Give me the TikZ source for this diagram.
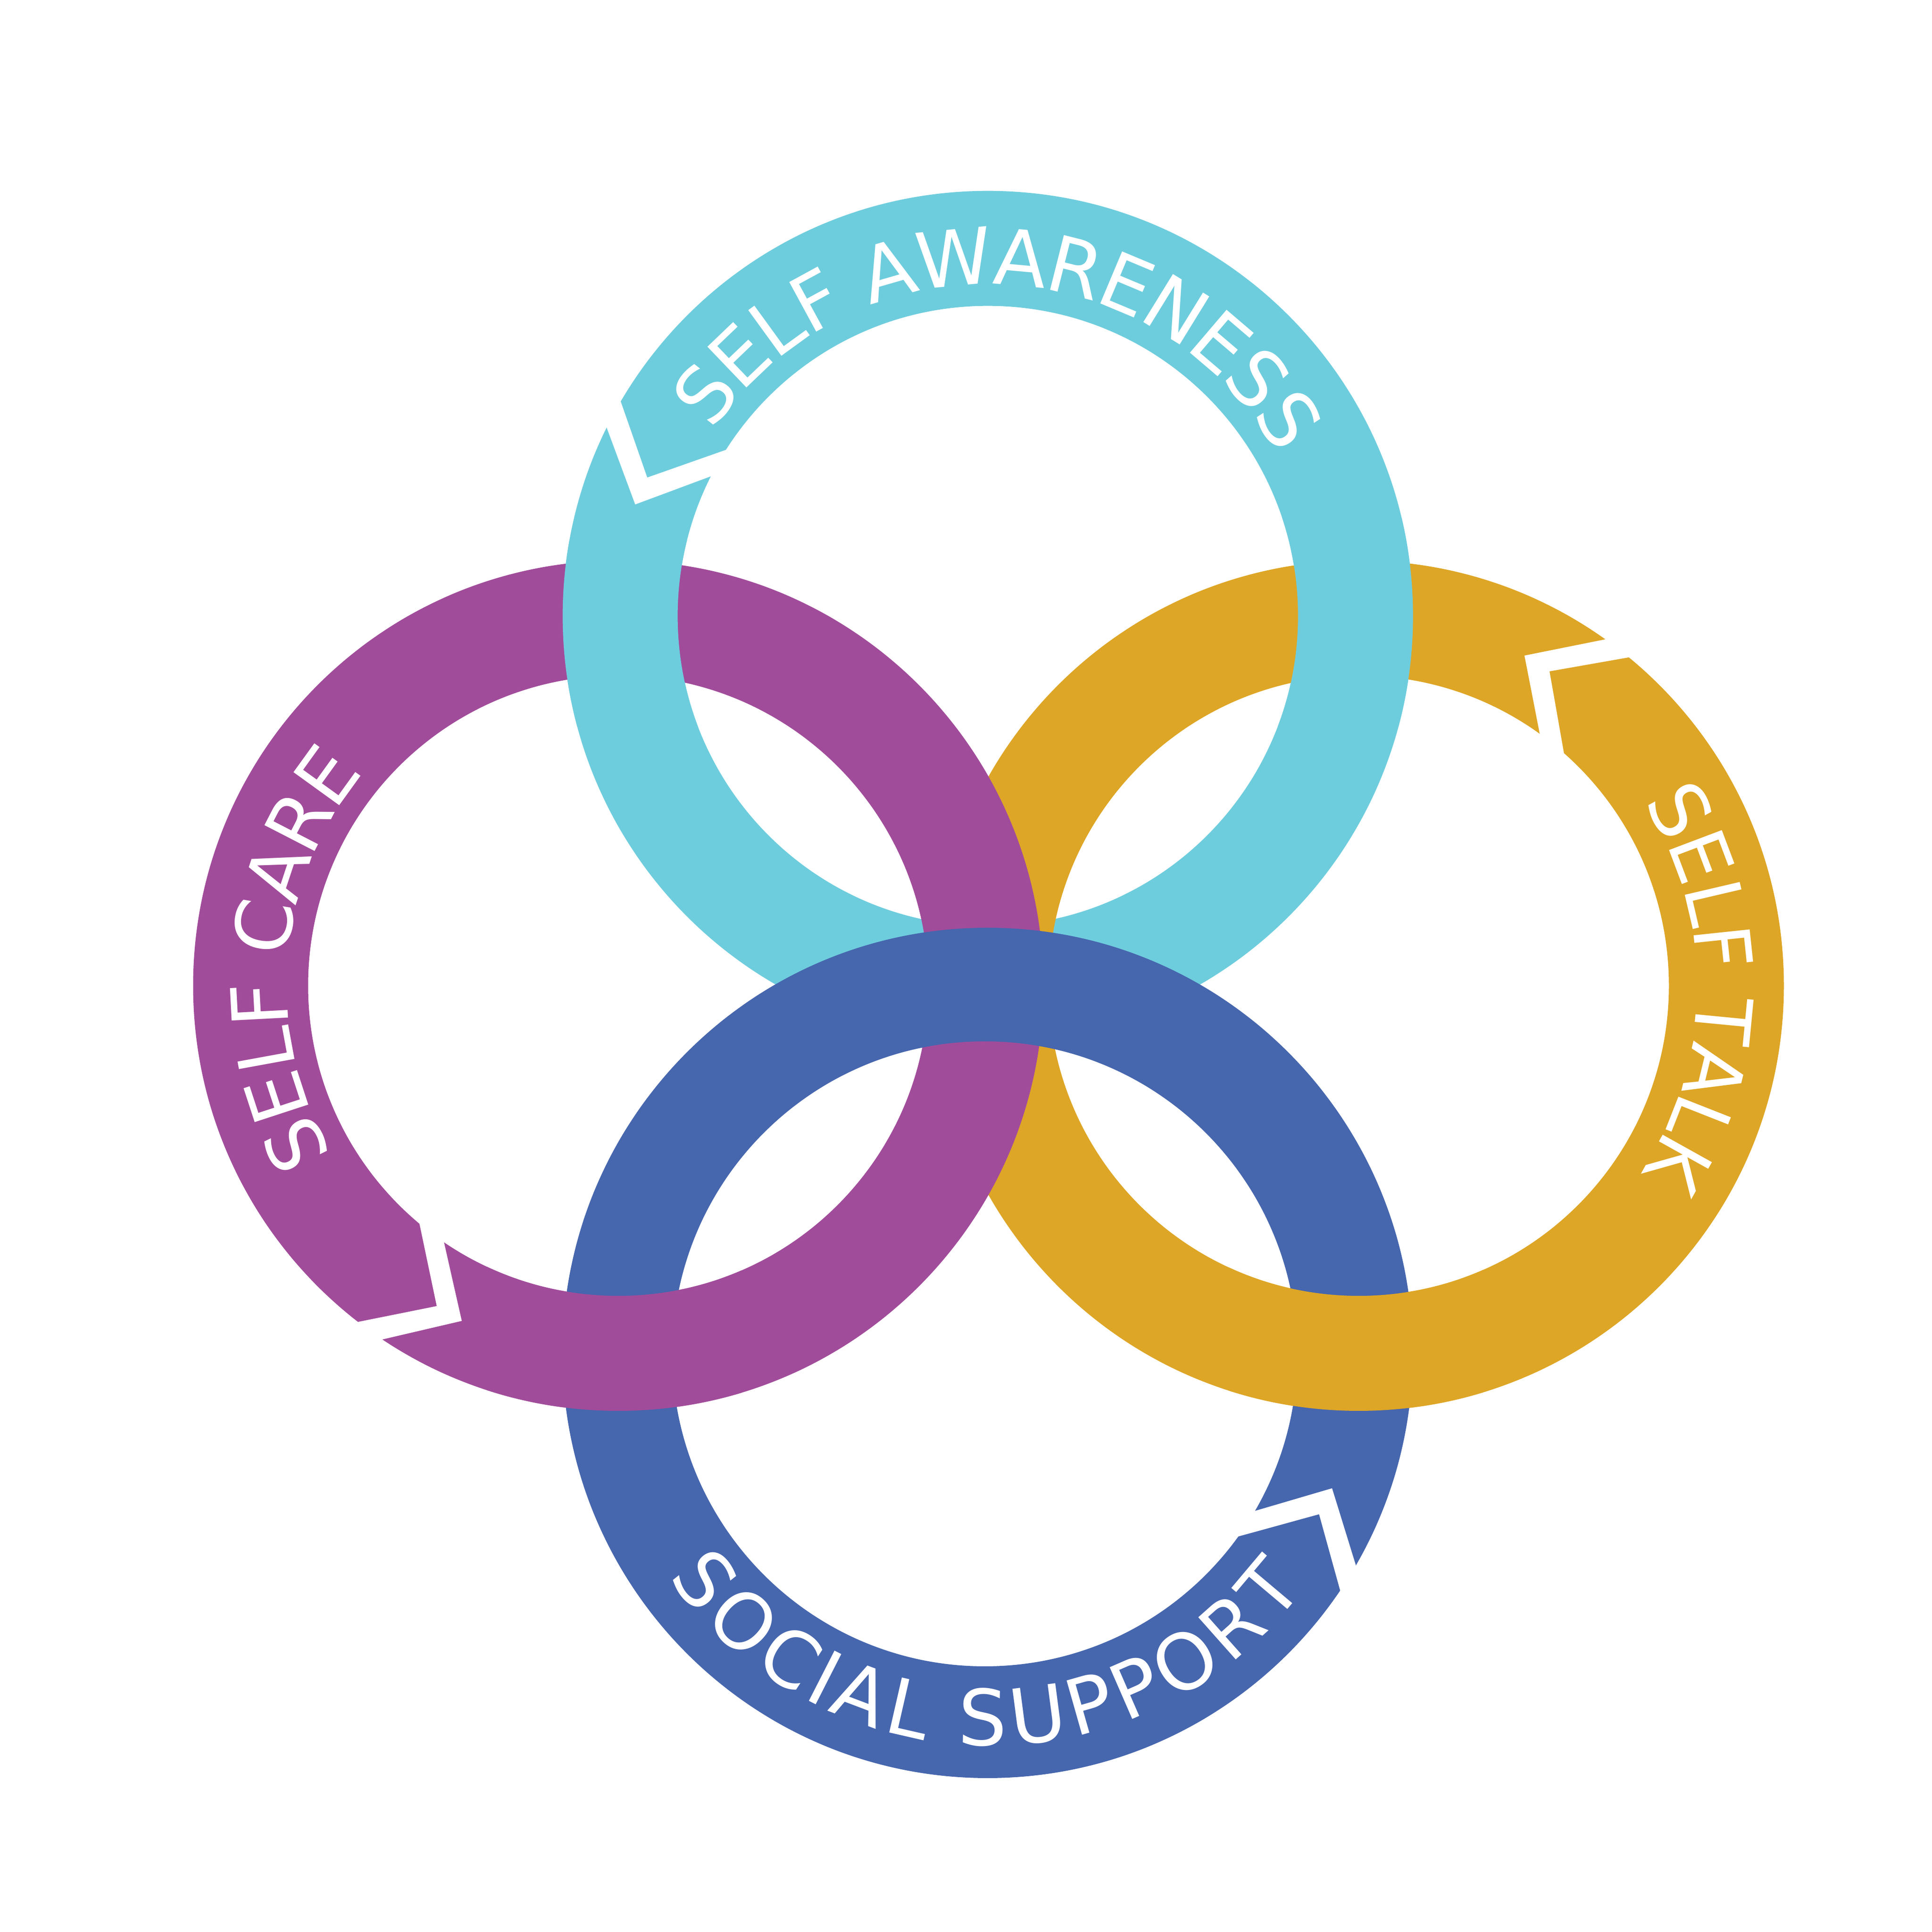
\documentclass[tikz,border=0pt]{standalone}
\usepackage{fontspec}
\usepackage{tikz}
\usetikzlibrary{calc,decorations.text}

\newfontfamily\bandfamily{DejaVu Sans}
\newcommand{\labelfont}{\bandfamily\fontsize{47.5}{50}\selectfont}
\definecolor{ringteal}{HTML}{6ECDDD}
\definecolor{ringpurple}{HTML}{A14C9A}
\definecolor{ringgold}{HTML}{DEA626}
\definecolor{ringblue}{HTML}{4666AE}

\newcommand{\ringband}[3]{\fill[#1,even odd rule] (#2) circle[radius=9.17] (#3) circle[radius=6.69];}

\tikzset{
    gapcut/.style={fill=white},
    ringlabel/.style 2 args={decorate,decoration={text along path,text color=white,raise=#1,
        text align={fit to path},text={|\labelfont|#2}}}
}

\begin{document}
\begin{tikzpicture}
        \useasboundingbox (0,0) rectangle (41.67,41.67);
        \coordinate (awareC) at (21.306,28.383);
        \coordinate (careC) at (13.335,20.41);
        \coordinate (talkC) at (29.305,20.41);
        \coordinate (supportC) at (21.30,12.49);
        \coordinate (supportH) at (21.24,12.47);
        \coordinate (supportT) at (21.36,12.47);

        % Bottom layers
        \ringband{ringteal}{awareC}{awareC}
        \ringband{ringgold}{talkC}{talkC}
        \ringband{ringpurple}{careC}{careC}

        % Teal passes over purple and gold at the top
        \begin{scope}
            \clip (11,26) rectangle (16,30);
            \ringband{ringteal}{awareC}{awareC}
        \end{scope}
        \begin{scope}
            \clip (26.5,26) rectangle (32,30.5);
            \ringband{ringteal}{awareC}{awareC}
        \end{scope}

        % Blue hole is a little larger and sits off centre
        \fill[ringblue,even odd rule] (supportC) circle[radius=9.17] (supportH) circle[radius=6.74];

        % Gold and purple pass over blue at the bottom
        \begin{scope}
            \clip (26.5,10.5) rectangle (32,15);
            \ringband{ringgold}{talkC}{talkC}
        \end{scope}
        \begin{scope}
            \clip (10.5,10.5) rectangle (16,15);
            \ringband{ringpurple}{careC}{careC}
        \end{scope}

        % Notches
        \fill[gapcut] (13.29,33.29) -- (13.96,31.37) -- (15.95,32.07) -- (15.61,31.50) -- (13.70,30.79) -- (12.98,32.73) -- cycle;
        \fill[gapcut] (34.97,27.95) -- (32.88,27.53) -- (33.28,25.48) -- (33.80,25.04) -- (33.42,27.19) -- (35.46,27.55) -- cycle;
        \fill[gapcut] (9.00,15.50) -- (9.42,13.50) -- (7.53,13.12) -- (8.03,12.73) -- (9.96,13.18) -- (9.53,15.08) -- cycle;
        \fill[gapcut] (26.82,9.01) -- (28.73,9.57) -- (29.33,7.63) -- (28.97,7.13) -- (28.45,9.01) -- (26.45,8.46) -- cycle;

        % Labels
        \path[ringlabel={-6mm}{SELF AWARENESS}] ($(awareC)+(145.8:7.75)$) arc[start angle=145.8,end angle=29.2,radius=7.75];
        \path[ringlabel={-6mm}{SELF CARE}] ($(careC)+(210.2:7.75)$) arc[start angle=210.2,end angle=140.3,radius=7.75];
        \path[ringlabel={-5.5mm}{SELF TALK}] ($(talkC)+(32.5:7.85)$) arc[start angle=32.5,end angle=-33.1,radius=7.85];
        \path[ringlabel={-6mm}{SOCIAL SUPPORT}] ($(supportT)+(214.45:7.85)$) arc[start angle=214.45,end angle=323.6,radius=7.85];
    \end{tikzpicture}
\end{document}
